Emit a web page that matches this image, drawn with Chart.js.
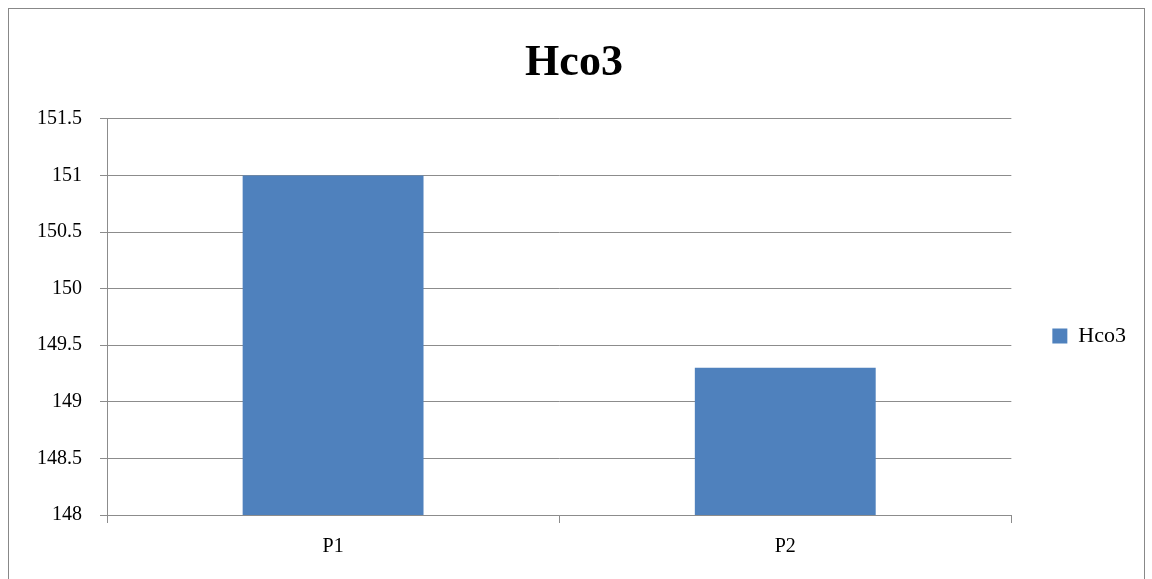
<!DOCTYPE html>
<html>
<head>
<meta charset="utf-8">
<script src="https://cdn.jsdelivr.net/npm/chart.js@4.4.1/dist/chart.umd.min.js"></script>
<style>
  html, body { margin: 0; padding: 0; background: #fff; }
  #wrap {
    position: absolute; left: 8px; top: 8px;
    width: 1137px; height: 580px;
    border: 1px solid #888; box-sizing: border-box;
  }
  canvas { display: block; }
</style>
</head>
<body>
<div id="wrap"><canvas id="chart"></canvas></div>
<script>
// 数据
const categories = ['P1', 'P2'];
const hco3Values = [151, 149.3];
const seriesName = 'Hco3';
const yTicks = [148, 148.5, 149, 149.5, 150, 150.5, 151, 151.5];

const serif = "'Liberation Serif', 'DejaVu Serif', serif";
const gridColor = '#8c8c8c';

// 图例下移，与参考图对齐
const legendShift = {
    id: 'legendShift',
    afterLayout(chart) {
        const lg = chart.legend;
        if (!lg) return;
        lg.top += 41; lg.bottom += 41;
        lg.left += 7; lg.right += 7;
    }
};

const ctx = document.getElementById('chart').getContext('2d');
new Chart(ctx, {
    type: 'bar',
    data: {
        labels: categories,
        datasets: [{
            label: seriesName,
            data: hco3Values,
            backgroundColor: '#4f81bd',
            borderWidth: 0,
            barPercentage: 0.4,
            categoryPercentage: 1.0
        }]
    },
    options: {
        responsive: true,
        maintainAspectRatio: false,
        animation: false,
        layout: { padding: { left: 10, right: 15, top: 10, bottom: 16 } },
        plugins: {
            title: {
                display: true,
                text: seriesName,
                color: '#000',
                font: { family: serif, size: 44, weight: 'bold' },
                padding: { top: 18, bottom: 29 }
            },
            legend: {
                position: 'right',
                labels: {
                    color: '#000',
                    font: { family: serif, size: 22 },
                    boxWidth: 15,
                    boxHeight: 15,
                    padding: 34
                }
            },
            tooltip: { enabled: false }
        },
        scales: {
            x: {
                grid: {
                    offset: true,
                    drawOnChartArea: false,
                    color: gridColor,
                    tickLength: 8
                },
                border: { color: gridColor },
                ticks: {
                    color: '#000',
                    font: { family: serif, size: 20 },
                    padding: 12
                }
            },
            y: {
                min: 148,
                max: 151.5,
                afterBuildTicks: (scale) => {
                    scale.ticks = yTicks.map(v => ({ value: v }));
                },
                grid: { color: gridColor, tickLength: 7 },
                border: { color: gridColor },
                ticks: {
                    color: '#000',
                    font: { family: serif, size: 20 },
                    padding: 18,
                    callback: (v) => String(v)
                }
            }
        }
    },
    plugins: [legendShift]
});
</script>
</body>
</html>
